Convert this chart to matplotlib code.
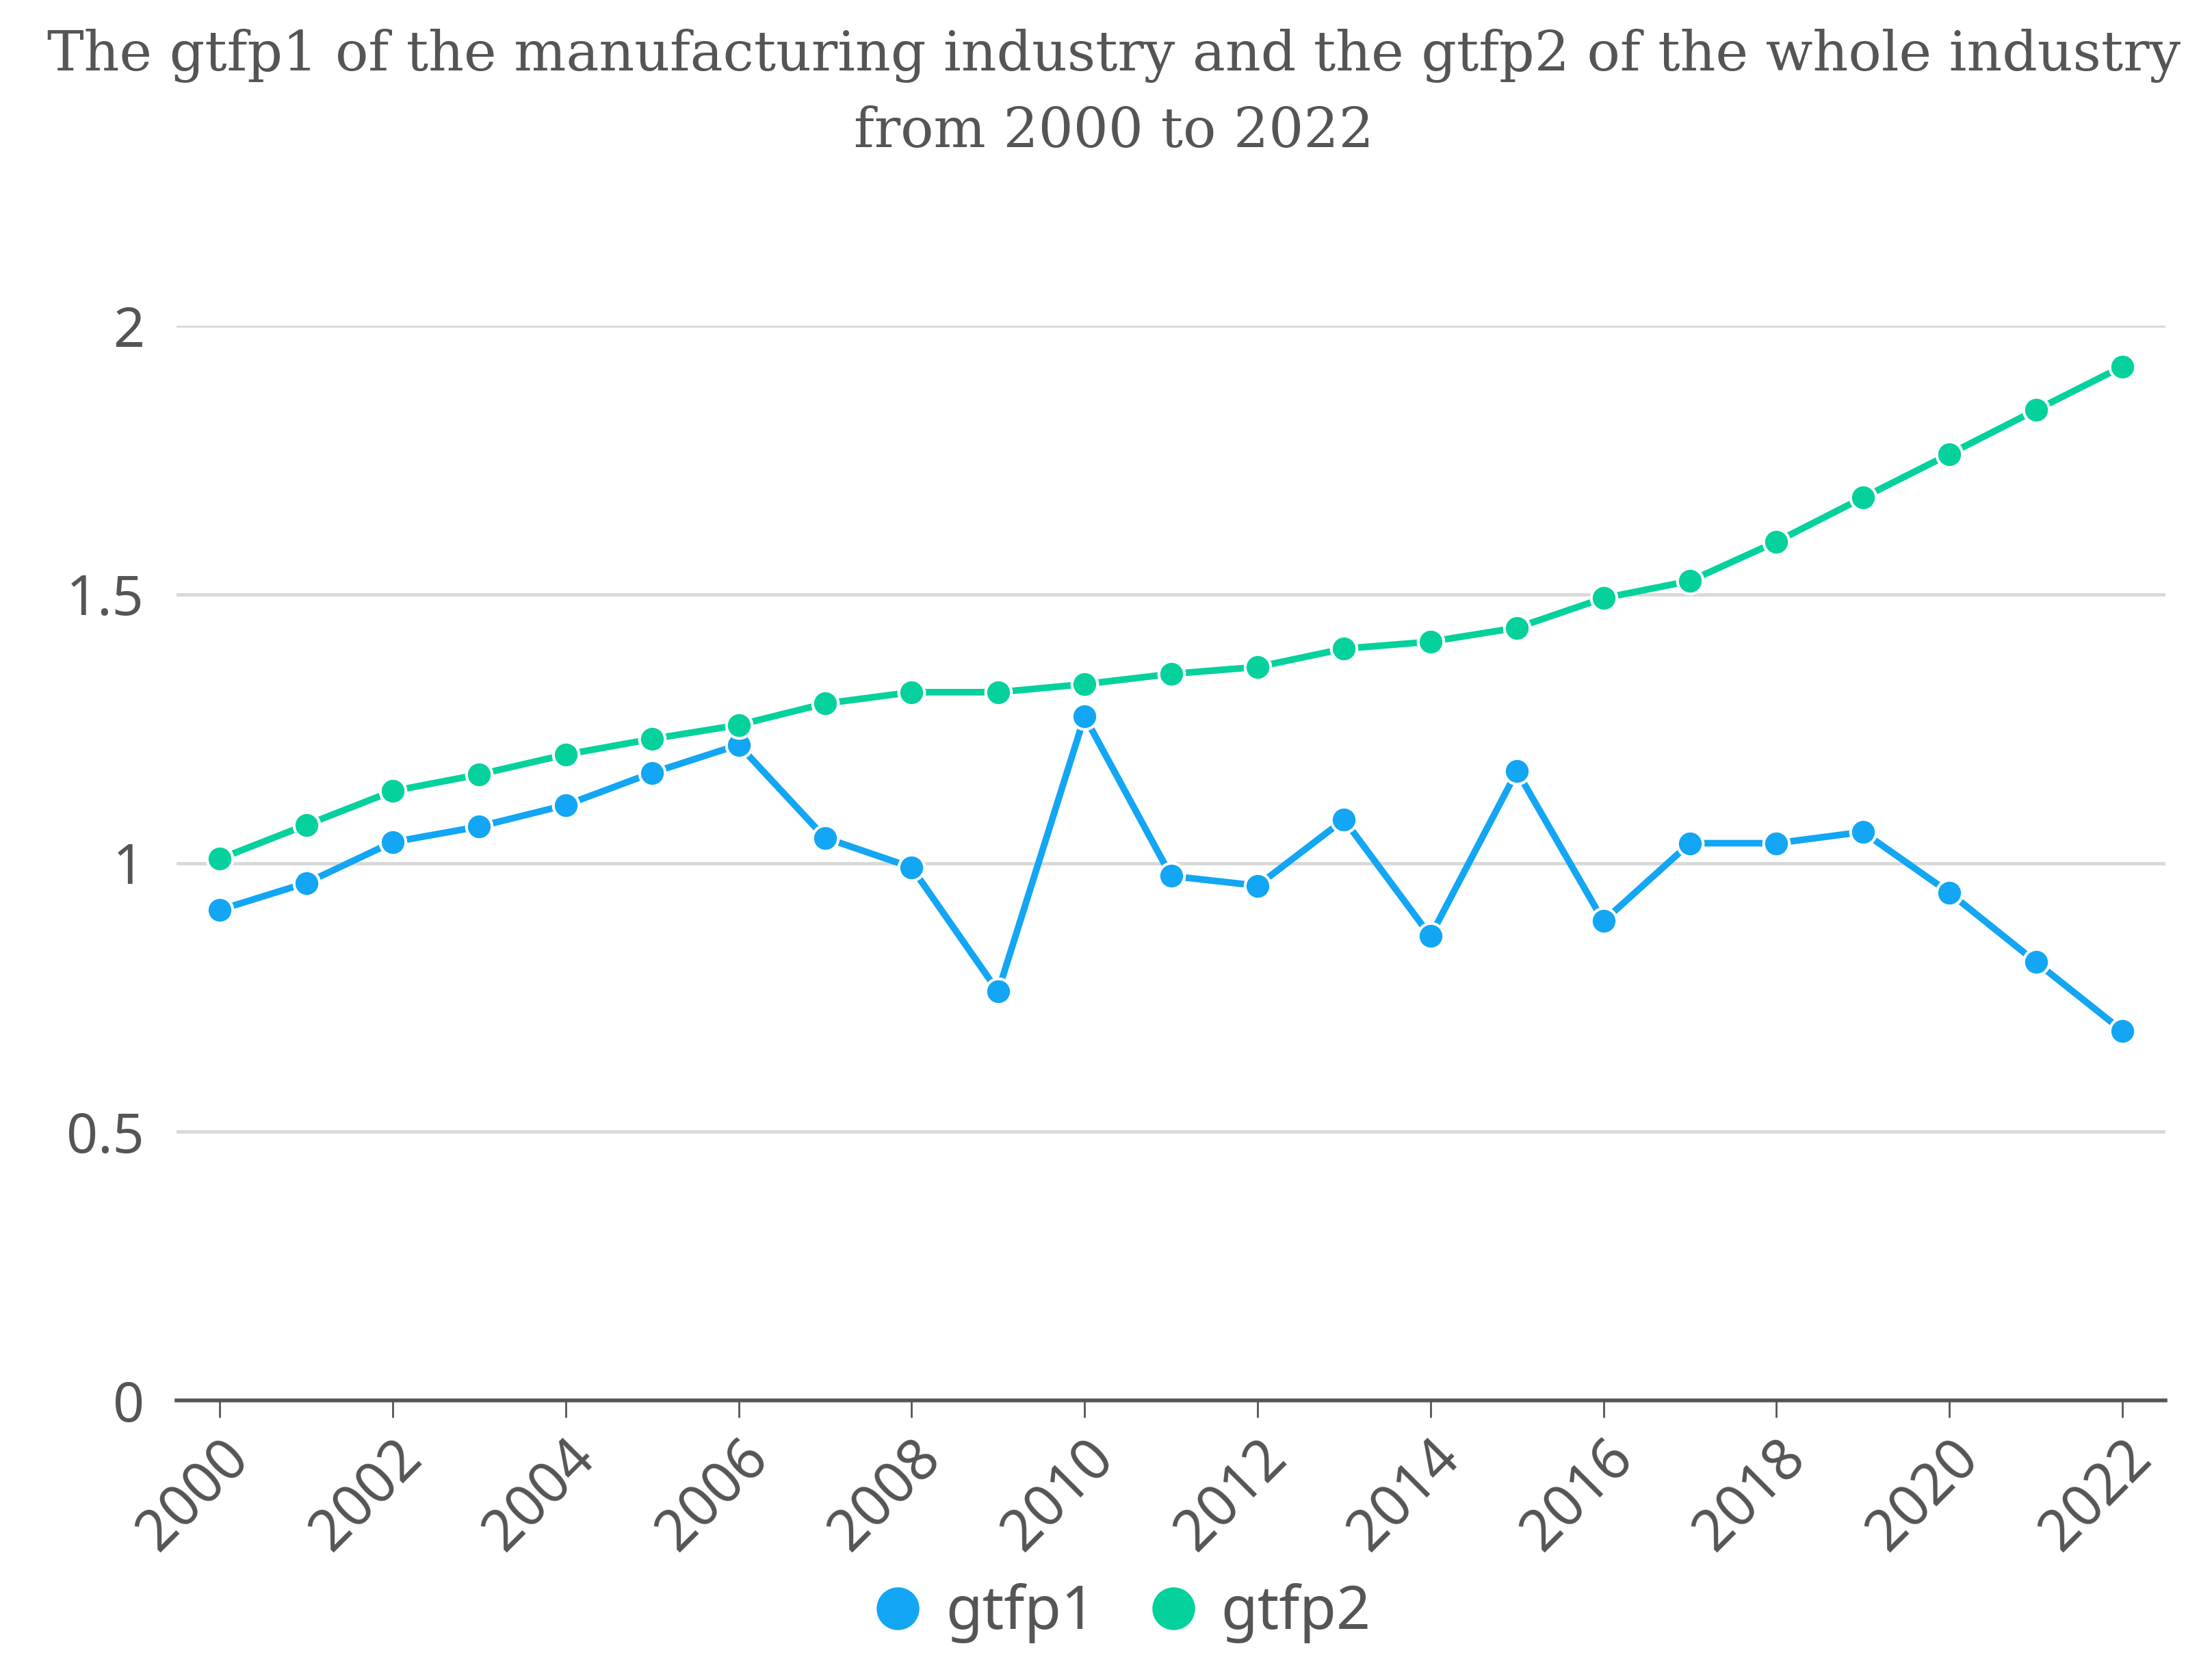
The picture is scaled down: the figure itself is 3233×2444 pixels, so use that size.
import numpy as np
import matplotlib
matplotlib.use("Agg")
import matplotlib.pyplot as plt
from matplotlib.lines import Line2D

# 数据
years = np.arange(2000, 2023)
gtfp1 = [0.913, 0.963, 1.039, 1.068, 1.108, 1.168, 1.220, 1.047, 0.992, 0.761,
         1.273, 0.976, 0.958, 1.081, 0.864, 1.171, 0.892, 1.037, 1.037, 1.058,
         0.945, 0.816, 0.688]
gtfp2 = [1.008, 1.071, 1.134, 1.165, 1.202, 1.231, 1.257, 1.297, 1.318, 1.318,
         1.333, 1.352, 1.365, 1.399, 1.412, 1.438, 1.493, 1.525, 1.598, 1.680,
         1.761, 1.843, 1.924]
series_names = ['gtfp1', 'gtfp2']
colors = ['#12a6f4', '#05d19c']
yticks = [0, 0.5, 1, 1.5, 2]
ytick_labels = ['0', '0.5', '1', '1.5', '2']
title = ('The gtfp1 of the manufacturing industry and the gtfp2 of the whole industry\n'
         'from 2000 to 2022')

text_color = '#555555'
sans = ['Noto Sans', 'DejaVu Sans']

fig = plt.figure(figsize=(32.33, 24.44), dpi=100)
ax = fig.add_axes([0.0798, 0.1624, 0.8992, 0.6428])

for vals, name, c in zip([gtfp1, gtfp2], series_names, colors):
    ax.plot(years, vals, color=c, lw=7, marker='o', ms=27, mfc=c, mec='white',
            mew=3, clip_on=False, zorder=3, label=name)

ax.set_xlim(1999.5, 2022.5)
ax.set_ylim(0, 2)
ax.set_yticks(yticks)
ax.set_yticklabels(ytick_labels, family=sans, fontsize=58, color=text_color)
ax.set_xticks(years[::2])
ax.set_xticklabels([str(y) for y in years[::2]], family=sans, fontsize=60,
                   color=text_color, rotation=45, ha='right', va='top',
                   rotation_mode='anchor')

ax.grid(axis='y', color='#d9d9d9', lw=3.5)
ax.set_axisbelow(True)
for s in ['top', 'right', 'left']:
    ax.spines[s].set_visible(False)
ax.spines['bottom'].set_color('#555555')
ax.spines['bottom'].set_linewidth(4)
ax.spines['bottom'].set_zorder(2)
ax.tick_params(axis='y', length=0, pad=34)
ax.tick_params(axis='x', length=18, width=2, color='#555555', pad=12)

fig.text(0.5035, 0.983, title, ha='center', va='top', family=['DejaVu Serif'],
         fontsize=58, color=text_color, linespacing=1.55)

handles = [Line2D([], [], ls='none', marker='o', ms=44, mfc=c, mec=c) for c in colors]
fig.legend(handles, series_names, loc='center', bbox_to_anchor=(0.506, 0.035),
           ncol=2, frameon=False, prop={'family': sans, 'size': 63},
           labelcolor=text_color, handletextpad=0.3, columnspacing=0.8,
           handlelength=1.0)

fig.savefig('out.png', dpi=100, facecolor='white')
